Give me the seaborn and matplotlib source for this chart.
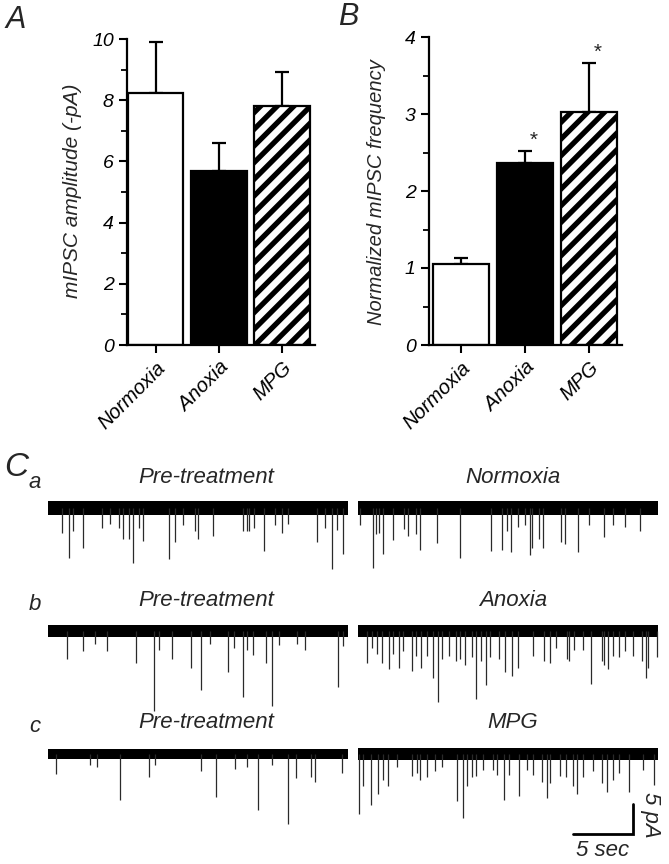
import numpy as np
import pandas as pd
import matplotlib
matplotlib.use("Agg")
import matplotlib.pyplot as plt
from matplotlib.ticker import MultipleLocator
import seaborn as sns

# ---------------- data ----------------
conditions = ["Normoxia", "Anoxia", "MPG"]
amp_mean = [8.24, 5.69, 7.81]
amp_sem = [1.66, 0.91, 1.11]
freq_mean = [1.05, 2.36, 3.03]
freq_sem = [0.08, 0.16, 0.63]
freq_sig = [False, True, True]

trace_duration = 25.3  # s

# event times (s) and amplitudes (pA, downward)
a_pre_t = [1.14, 1.78, 2.06, 2.89, 4.47, 5.17, 5.94, 6.28, 6.78, 7.11, 7.61, 7.94, 10.11, 10.58,
           11.22, 12.25, 12.53, 13.78, 16.28, 16.56, 16.78, 17.17, 18.0, 18.92, 19.47, 20.03,
           22.39, 23.08, 23.69, 24.06, 24.61]
a_pre_a = [4.2, 8.3, 3.9, 6.6, 3.4, 2.6, 3.4, 5.1, 5.1, 9.2, 3.4, 5.5, 8.5, 5.6,
           2.8, 3.9, 5.2, 4.6, 3.9, 3.9, 3.9, 3.4, 7.1, 2.8, 4.1, 2.6,
           5.6, 3.4, 10.1, 3.7, 7.6]
a_trt_t = [0.17, 1.22, 1.5, 1.78, 2.11, 2.94, 3.83, 4.19, 4.83, 5.17, 6.56, 8.5, 11.06, 11.97,
           12.39, 12.72, 13.36, 13.92, 14.33, 14.47, 15.11, 15.39, 16.89, 17.25, 18.36, 19.28,
           20.5, 21.28, 22.25, 23.5]
a_trt_a = [2.9, 10.0, 4.3, 4.2, 7.7, 5.4, 3.5, 4.6, 4.4, 7.0, 5.9, 8.3, 7.2, 7.0,
           3.8, 7.4, 3.2, 2.9, 7.8, 6.6, 5.2, 6.7, 5.7, 6.0, 7.4, 2.8,
           4.8, 2.9, 3.2, 3.8]
b_pre_t = [1.61, 2.89, 3.92, 4.89, 7.31, 8.83, 9.28, 10.31, 11.89, 12.72, 13.5, 14.97, 15.5,
           16.22, 16.56, 17.06, 18.17, 18.64, 19.28, 20.72, 21.42, 24.14, 24.61]
b_pre_a = [4.7, 3.4, 2.1, 3.3, 5.3, 13.3, 3.1, 4.6, 6.2, 9.9, 2.1, 6.8, 2.8,
           11.0, 3.1, 4.0, 5.3, 12.5, 2.3, 2.1, 3.1, 9.3, 2.5]
b_trt_t = [0.72, 1.14, 1.56, 1.97, 2.61, 2.89, 3.44, 3.78, 4.47, 4.83, 5.22, 5.78, 6.22, 6.69,
           6.97, 7.61, 8.17, 8.5, 8.92, 9.47, 9.83, 10.22, 10.67, 11.0, 11.78, 12.25, 12.81,
           13.36, 14.61, 15.5, 16.0, 16.5, 17.44, 17.61, 18.0, 18.78, 19.39, 20.31, 20.5,
           20.86, 21.28, 21.78, 22.25, 22.94, 23.64, 24.0, 24.19, 24.94]
b_trt_a = [5.3, 2.8, 3.9, 5.3, 6.4, 3.9, 6.1, 3.4, 6.7, 4.2, 6.1, 4.2, 7.8, 11.8,
           4.7, 4.2, 5.0, 4.7, 5.6, 4.4, 11.4, 5.0, 9.0, 4.3, 4.7, 6.9, 7.5,
           6.2, 4.2, 5.0, 5.3, 2.8, 4.7, 5.0, 3.1, 3.1, 8.9, 5.0, 5.6,
           6.4, 4.2, 4.4, 3.3, 4.2, 5.0, 7.8, 6.1, 4.4]
c_pre_t = [0.67, 3.5, 4.11, 6.0, 8.44, 8.92, 12.72, 14.0, 15.58, 16.56, 17.53, 18.64, 20.03,
           20.67, 21.89, 22.25, 24.47]
c_pre_a = [3.3, 1.8, 2.2, 7.7, 3.8, 1.9, 2.9, 7.1, 2.5, 2.2, 9.3, 1.8, 11.6,
           4.0, 3.8, 4.7, 3.2]
c_trt_t = [0.11, 0.44, 1.06, 1.69, 2.11, 2.53, 3.22, 4.47, 4.89, 5.17, 5.72, 6.42, 6.97, 8.22,
           8.78, 9.11, 9.47, 9.83, 10.44, 11.28, 11.56, 12.17, 12.61, 13.44, 14.06, 14.61,
           15.31, 15.78, 16.0, 16.83, 17.33, 17.89, 18.28, 18.78, 19.61, 20.31, 20.78, 21.28,
           21.78, 22.61, 23.72, 24.67]
c_trt_a = [10.0, 5.4, 8.5, 6.6, 4.3, 5.4, 2.1, 3.7, 3.2, 4.3, 3.8, 2.8, 2.1, 7.9,
           10.6, 5.4, 3.8, 3.7, 2.7, 2.7, 3.5, 7.7, 3.5, 7.0, 2.7, 3.5,
           4.6, 7.4, 4.9, 3.7, 3.8, 5.4, 6.7, 3.8, 2.8, 4.9, 6.3, 4.3,
           3.2, 6.3, 2.7, 5.2]
noise_pA = [1.1, 1.15, 0.95, 1.05, 0.9, 1.05]   # half-width of baseline noise band

row_letters = ["a", "b", "c"]
left_titles = ["Pre-treatment", "Pre-treatment", "Pre-treatment"]
right_titles = ["Normoxia", "Anoxia", "MPG"]
scale_t = 5.0   # s
scale_i = 5.0   # pA

# ---------------- style ----------------
sns.set_theme(style="ticks")
plt.rcParams["font.family"] = ["Liberation Sans", "DejaVu Sans"]
plt.rcParams["font.style"] = "italic"
plt.rcParams["hatch.linewidth"] = 3.8
plt.rcParams["hatch.color"] = "black"

W, H = 669, 864
fig = plt.figure(figsize=(W / 100, H / 100), dpi=100)


def axrect(l, r, t, b):
    return [l / W, 1 - b / H, (r - l) / W, (b - t) / H]


def px(x, y):
    return x / W, 1 - y / H


def bar_panel(ax, means, sems, ymax, major, minor, sig=None):
    df = pd.DataFrame({"cond": conditions, "val": means})
    sns.barplot(data=df, x="cond", y="val", hue="cond", palette=["white", "black", "white"],
                edgecolor="black", linewidth=1.6, width=0.875, errorbar=None,
                legend=False, ax=ax, saturation=1)
    ax.patches[2].set_hatch("//")
    ax.errorbar(range(3), means, yerr=[[0] * 3, sems], fmt="none", ecolor="black",
                elinewidth=1.6, capsize=5, capthick=1.6, zorder=1)
    for p in ax.patches:
        p.set_zorder(2)
    if sig is not None:
        for i, s in enumerate(sig):
            if s:
                ax.text(i + 0.12, means[i] + sems[i] + ymax * 0.005, "*", ha="center",
                        va="bottom", fontsize=15)
    ax.set_ylim(0, ymax)
    ax.set_yticks(major)
    ax.yaxis.set_minor_locator(MultipleLocator(minor))
    sns.despine(ax=ax)
    for s in ["left", "bottom"]:
        ax.spines[s].set_linewidth(1.6)
        ax.spines[s].set_color("black")
    ax.tick_params(axis="both", which="major", direction="out", length=6, width=1.5,
                   labelsize=14, colors="black")
    ax.tick_params(axis="y", which="minor", direction="out", length=4, width=1.3, colors="black")
    ax.set_xlabel("")
    ax.set_ylabel("")
    ax.set_xticks(range(3))
    ax.set_xticklabels(conditions, rotation=45, ha="right", rotation_mode="anchor",
                       fontsize=14.5)


axA = fig.add_axes(axrect(127, 315, 39, 345))
bar_panel(axA, amp_mean, amp_sem, 10, [0, 2, 4, 6, 8, 10], 1)
axA.set_xlim(-0.455, 2.52)

axB = fig.add_axes(axrect(429, 622, 37, 345))
bar_panel(axB, freq_mean, freq_sem, 4, [0, 1, 2, 3, 4], 0.5, sig=freq_sig)
axB.set_xlim(-0.5, 2.52)

fig.text(*px(72, 191), "mIPSC amplitude (-pA)", rotation=90, ha="center", va="center",
         fontsize=15)
fig.text(*px(376, 192), "Normalized mIPSC frequency", rotation=90, ha="center",
         va="center", fontsize=14.5)
fig.text(*px(6, 20), "A", fontsize=22, ha="left", va="center")
fig.text(*px(338, 17), "B", fontsize=22, ha="left", va="center")

# ---------------- traces ----------------
traces = [(a_pre_t, a_pre_a, a_trt_t, a_trt_a),
          (b_pre_t, b_pre_a, b_trt_t, b_trt_a),
          (c_pre_t, c_pre_a, c_trt_t, c_trt_a)]
baselines = [508, 631, 754]
title_y = [478, 601, 723]
px_per_pA = 6.0

last_ax = None
for r, (lt, la, rt, ra) in enumerate(traces):
    base = baselines[r]
    top = base - 10
    bot = base + 14 * px_per_pA
    for k, (tt, aa, l, rr) in enumerate([(lt, la, 48, 352), (rt, ra, 358, 662)]):
        ax = fig.add_axes(axrect(l, rr, top, bot))
        nz = noise_pA[2 * r + k]
        dur = (rr - l) / 12.0 - 0.35
        ax.fill_between([0, dur], [-nz, -nz], [nz, nz], color="black", lw=0)
        ax.vlines(tt, 0, -np.asarray(aa), color="#2a2a2a", lw=0.9)
        ax.set_xlim(0, (rr - l) / 12.0)
        ax.set_ylim(-14, 10 / px_per_pA)
        ax.axis("off")
        last_ax = ax
    fig.text(*px(206, title_y[r]), left_titles[r], ha="center", va="center", fontsize=16)
    fig.text(*px(513, title_y[r]), right_titles[r], ha="center", va="center", fontsize=16)
    fig.text(*px(35, title_y[r] + 4), row_letters[r], ha="center", va="center", fontsize=16)

fig.text(*px(4, 468), "C", fontsize=24, ha="left", va="center")

# scale bar (in last trace axes data coords)
x1 = (633 - 358) / 12.0
x0 = x1 - scale_t
y0 = -(834 - 754) / px_per_pA
last_ax.plot([x0, x1, x1], [y0, y0, y0 + scale_i], color="black", lw=2, clip_on=False,
             solid_joinstyle="miter")
fig.text(*px(603, 850), "5 sec", ha="center", va="center", fontsize=16)
fig.text(*px(651, 815), "5 pA", ha="center", va="center", fontsize=16, rotation=-90)

fig.savefig("out.png", dpi=100)
